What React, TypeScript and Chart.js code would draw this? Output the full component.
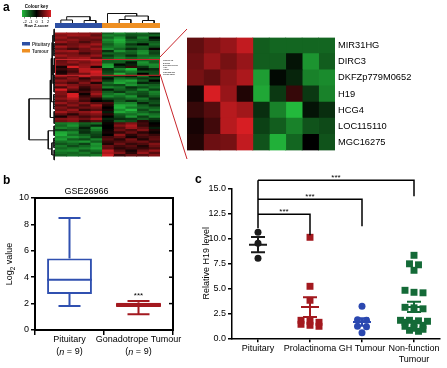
import React, { useEffect, useRef } from 'react';
import { Chart, registerables } from 'chart.js';

Chart.register(...registerables);

const FONT = '"Liberation Sans", Arial, Helvetica, sans-serif';
Chart.defaults.font.family = FONT;
Chart.defaults.color = '#000';

// ---------------- Panel a : heatmap data ----------------
const sampleGroups = [0, 0, 0, 0, 1, 1, 1, 1, 1];
const groupNames = ['Pituitary', 'Tumour'];
const groupColors = ['#2d4fa3', '#ee8f22'];

const topRows = [
  [1.5, 1.4, 1.3, 1.2, -1.0, -1.5, -1.1, -1.2, -0.6],
  [1.2, 1.5, 1.4, 0.9, -1.4, -1.2, -0.9, -1.0, -1.1],
  [1.4, 1.0, 1.1, 1.2, -1.1, -1.6, -0.6, -1.4, -0.1],
  [1.1, 1.3, 1.0, 0.9, -1.5, -1.9, -1.0, -1.1, -0.5],
  [1.4, 1.1, 0.7, 1.1, -1.3, -1.8, -1.2, -1.0, -1.0],
  [0.7, 1.0, 1.2, 1.5, -1.0, -1.5, -0.6, -0.1, -1.2],
  [1.5, 1.1, 1.4, 1.0, -1.2, -1.4, -1.0, -1.1, -0.9],
  [1.0, 0.6, 1.0, 1.4, -1.5, -1.1, -0.5, -1.0, 0.1],
  [1.4, 1.5, 1.0, 1.1, -0.5, -1.6, -1.1, -1.5, -0.8],
  [1.0, 1.1, 0.6, 1.0, -1.1, -1.0, -1.0, -1.6, -0.7],
  [1.5, 1.2, 1.1, 1.4, -0.6, -1.1, -0.5, -1.1, -1.0],
  [1.1, 1.4, 1.5, 0.9, -1.0, -1.4, -1.1, -1.3, -1.4],
];
const zoomGenes = ['MIR31HG', 'DIRC3', 'DKFZp779M0652', 'H19', 'HCG4', 'LOC115110', 'MGC16275'];
const zoomRows = [
  [0.9, 1.2, 1.4, 1.8, -1.0, -1.1, -1.1, -1.1, -1.1],
  [1.0, 1.4, 1.1, 1.4, -1.0, -1.0, -0.2, -1.6, -1.0],
  [1.1, 0.9, 1.3, 1.6, -1.7, -0.1, -0.4, -1.4, -1.5],
  [0.2, 2.0, 1.4, 0.3, -1.8, -0.6, 0.5, -0.6, -1.4],
  [0.5, 0.8, 1.7, 1.5, -0.5, -1.4, -2.0, -0.2, -0.5],
  [0.2, 0.6, 1.7, 2.0, -0.7, -1.0, -1.4, -0.9, -0.8],
  [0.3, 1.0, 1.1, 1.8, -0.9, -1.9, -1.1, 0.0, -0.9],
];
const midRows = [
  [1.4, 1.0, 1.8, 1.2, -0.8, -0.5, -0.3, -1.2, -0.2],
  [0.8, 1.3, 0.4, 1.0, -0.2, -1.2, -1.0, -0.6, -0.8],
  [1.3, 1.1, 0.8, 1.4, -0.6, -1.6, -1.8, -1.0, 0.0],
  [1.0, 0.6, 1.2, 0.3, -1.2, -1.8, -1.4, -0.4, -0.6],
  [1.5, 1.2, 0.9, 1.1, -0.9, -0.8, -1.6, -1.2, -1.0],
  [0.7, 1.4, 0.5, 1.0, -1.4, -1.2, -0.5, -0.8, -1.2],
  [2.0, 0.9, 0.3, 0.8, -0.3, -1.0, -0.8, -1.5, -0.7],
  [1.2, 0.4, 0.6, 1.2, -1.0, -0.6, -1.2, -0.9, -1.4],
  [1.2, 2.0, 0.1, 1.5, -1.2, -1.5, -1.0, -0.8, -1.3],
  [1.0, 2.1, 0.5, 1.0, -1.5, -1.2, -1.6, -0.6, -1.0],
  [1.3, 1.6, 0.8, 0.3, -0.8, -0.9, -1.2, -1.3, -0.5],
  [0.9, 1.2, 0.6, 0.0, -0.2, -1.0, -0.5, -1.0, -0.8],
  [1.4, 1.0, 1.2, 0.8, 0.6, -1.3, -1.4, -0.4, -0.9],
  [0.8, 1.3, 0.7, 1.5, 0.3, -1.8, -1.7, -1.0, -0.5],
  [1.2, 0.8, 1.0, 1.1, 0.0, -1.9, -1.3, -1.2, -1.0],
  [1.0, 1.4, 0.5, 0.8, 0.2, -1.5, -2.0, -0.8, -1.3],
  [1.5, 1.1, 1.3, 1.6, -0.3, -1.8, -1.5, -1.1, -0.8],
  [0.9, 0.4, 1.0, 1.2, 0.4, -1.0, -1.2, -1.5, -1.2],
  [0.2, 1.0, 0.6, 0.9, 0.0, -0.8, -1.6, -0.7, -1.4],
  [1.2, 1.3, 1.0, 1.5, -0.4, -0.5, -0.6, -1.0, -0.6],
  [1.0, 1.2, 0.5, 0.8, -0.2, -1.0, -0.8, 0.4, -0.3],
];
const lowRows = [
  [-1.3, -1.4, -1.0, -1.2, 0.1, 0.8, 1.2, 0.6, 0.0],
  [-1.1, -1.6, -0.8, -0.4, 0.0, 1.2, 1.6, 0.5, 0.1],
  [-1.4, -1.2, -0.3, -1.5, 0.0, 0.8, 1.4, 0.9, -0.3],
  [-0.8, -1.0, -0.6, -1.3, 0.1, 1.0, 0.7, 1.2, 0.3],
  [-1.8, -1.5, -0.5, -0.9, 0.2, 0.5, 1.0, 0.4, 0.1],
  [-1.9, -1.2, -1.0, -0.7, 0.0, 1.3, 0.4, 0.8, 0.5],
  [-1.5, -1.6, -1.3, -0.6, 0.6, 0.9, 0.2, 0.6, 0.8],
  [-1.7, -1.0, -0.8, -1.4, 0.8, 0.4, 1.1, 0.3, 0.9],
  [-1.2, -1.4, -1.6, -1.0, 0.5, 0.7, 0.9, 1.0, 0.6],
  [-0.9, -1.1, -0.7, -1.6, 0.3, 1.0, 0.5, 0.7, 1.2],
  [-1.3, -0.8, -1.1, -1.5, 1.0, 0.6, 0.8, 0.3, 1.0],
  [-1.1, -1.3, -1.4, -1.7, 0.9, 0.4, 0.6, 0.5, 0.7],
  [-1.4, -1.5, -0.9, -1.2, 1.8, 0.8, 0.2, 1.0, 1.4],
  [-1.2, -1.1, -1.3, -0.9, 1.6, 1.2, 0.4, 1.4, 0.8],
  [-1.0, -1.2, -1.1, -1.3, 1.9, 0.5, 0.9, 0.8, 1.2],
];
const heatRows = [...topRows, ...zoomRows, ...midRows, ...lowRows];
const zoomStart = topRows.length;
const heatLabels = heatRows.map((_, i) =>
  i >= zoomStart && i < zoomStart + zoomGenes.length ? zoomGenes[i - zoomStart] : '');

// column dendrogram merges: [idA, idB, height]; ids >= 9 are earlier merges
const colMerges = [
  [0, 1, 3], [2, 3, 2.5], [9, 10, 6.3],
  [5, 6, 3.5], [7, 8, 2.5], [12, 13, 7], [4, 14, 9.5],
];
// row dendrogram: leaf groups [firstRow, lastRow, height], then merges
const rowLeafGroups = [
  [0, 5, 0.8], [6, 11, 1.0], [12, 18, 0.7], [19, 26, 0.9], [27, 33, 1.1],
  [34, 39, 0.8], [40, 44, 0.9], [45, 49, 1.0], [50, 54, 0.8],
];
const rowMerges = [
  [0, 1, 2.0], [2, 3, 1.8], [9, 10, 2.8], [11, 4, 3.5], [12, 5, 4.5],
  [7, 8, 3.0], [6, 14, 6.5], [13, 15, 25],
];
const keyRange = [-2.5, 2.5];
const keyTicks = [-2, -1, 0, 1, 2];

// ---------------- Panel b : box plot ----------------
const boxCats = ['Pituitary', 'Gonadotrope Tumour'];
const boxN = [9, 9];
const boxMin = [1.82, 1.2];
const boxQ1 = [2.72, 1.74];
const boxMed = [3.8, 1.9];
const boxQ3 = [5.42, 2.06];
const boxMax = [8.49, 2.2];
const boxSig = ['', '***'];
const boxColors = ['#3050b0', '#a3191f'];
const boxFills = ['#ffffff', '#a3191f'];

// ---------------- Panel c : dot plot ----------------
const cCats = ['Pituitary', 'Prolactinoma', 'GH Tumour', ['Non-function', 'Tumour']];
const pitVals = [10.6, 9.5, 8.0];
const prlVals = [10.1, 5.2, 3.8, 1.8, 1.7, 1.6, 1.4, 1.3, 1.2];
const ghVals = [3.2, 1.85, 1.8, 1.2, 1.15, 0.55];
const nfVals = [8.3, 7.45, 7.35, 6.8, 4.8, 4.6, 4.55, 3.1, 3.05, 2.95, 1.8, 1.8, 1.75, 1.7, 1.6, 1.5, 1.3, 1.2, 1.0, 0.9, 0.8, 0.7];
const cGroups = [pitVals, prlVals, ghVals, nfVals];
const cColors = ['#1b1b1b', '#a3191f', '#2b48b0', '#146a37'];
const cStyles = ['circle', 'rect', 'circle', 'rect'];
const bracketTo = [1, 2, 3];
const bracketY = [12.4, 13.9, 15.8];
const bracketEnd = [10.3, 11.2, 14.2];
const bracketBase = 11.0;
const bracketSig = ['***', '***', '***'];

const LINK_RED = '#c8262c';

function heatColor(z: number) {
  const t = Math.min(Math.abs(z) / 2, 1);
  if (z >= 0) return `rgb(${Math.round(215 * t)},${Math.round(30 * t)},${Math.round(35 * t)})`;
  return `rgb(${Math.round(35 * t)},${Math.round(185 * t)},${Math.round(60 * t)})`;
}

const baseOpts = {
  animation: false,
  responsive: false,
  maintainAspectRatio: false,
  events: [],
  plugins: { legend: { display: false }, tooltip: { enabled: false } },
};

function heatConfig(rows: number[][], labels: string[], fontSize: number, axisWidth: number, plugins: any[]) {
  return {
    type: 'bar',
    data: {
      labels,
      datasets: sampleGroups.map((_, c) => ({
        data: rows.map(() => 1),
        backgroundColor: rows.map((r) => heatColor(r[c])),
        borderWidth: 0,
        barPercentage: 1,
        categoryPercentage: 1,
        inflateAmount: 0.4,
      })),
    },
    options: {
      ...baseOpts,
      indexAxis: 'y',
      layout: { padding: 0 },
      scales: {
        x: { stacked: true, display: false, min: 0, max: sampleGroups.length },
        y: {
          stacked: true,
          position: 'right',
          grid: { display: false, drawTicks: false },
          border: { display: false },
          ticks: { autoSkip: false, font: { size: fontSize }, padding: 3, color: '#000' },
          afterFit: (s: any) => { s.width = axisWidth; },
        },
      },
    },
    plugins,
  };
}

const zoomBoxPlugin = {
  id: 'zoomBox',
  afterDraw(chart: any) {
    const { ctx, chartArea: ca, scales } = chart;
    const y = scales.y;
    const half = (y.getPixelForTick(1) - y.getPixelForTick(0)) / 2;
    const top = y.getPixelForTick(zoomStart) - half;
    const bot = y.getPixelForTick(zoomStart + zoomGenes.length - 1) + half;
    ctx.save();
    ctx.strokeStyle = LINK_RED;
    ctx.lineWidth = 1;
    ctx.strokeRect(ca.left + 0.5, top, ca.width - 1, bot - top);
    ctx.restore();
  },
};

function colBarConfig() {
  return {
    type: 'bar',
    data: {
      labels: [''],
      datasets: sampleGroups.map((g) => ({
        data: [1], backgroundColor: groupColors[g], borderWidth: 0,
        barPercentage: 1, categoryPercentage: 1, inflateAmount: 0.4,
      })),
    },
    options: {
      ...baseOpts, indexAxis: 'y', layout: { padding: 0 },
      scales: {
        x: { stacked: true, display: false, min: 0, max: sampleGroups.length },
        y: { stacked: true, display: false },
      },
    },
  };
}

function segDataset(seg: { x: number; y: number }[]) {
  return {
    data: seg, showLine: true, pointRadius: 0, borderColor: '#111', borderWidth: 1, tension: 0, clip: false,
  };
}

function colDendroConfig() {
  const n = sampleGroups.length;
  const pos: number[] = [];
  const ht: number[] = [];
  for (let i = 0; i < n; i++) { pos[i] = i; ht[i] = 0; }
  const segs: any[] = [];
  colMerges.forEach(([a, b, h], k) => {
    segs.push([{ x: pos[a], y: ht[a] }, { x: pos[a], y: h }, { x: pos[b], y: h }, { x: pos[b], y: ht[b] }]);
    pos[n + k] = (pos[a] + pos[b]) / 2;
    ht[n + k] = h;
  });
  return {
    type: 'scatter',
    data: { datasets: segs.map(segDataset) },
    options: {
      ...baseOpts, layout: { padding: 0 },
      scales: {
        x: { type: 'linear', display: false, min: -0.5, max: n - 0.5 },
        y: { type: 'linear', display: false, min: 0, max: 12 },
      },
    },
  };
}

function rowDendroConfig() {
  const pos: number[] = [];
  const ht: number[] = [];
  const segs: any[] = [];
  rowLeafGroups.forEach(([lo, hi, h], g) => {
    for (let r = lo; r <= hi; r++) segs.push([{ x: 0, y: r }, { x: h, y: r }]);
    segs.push([{ x: h, y: lo }, { x: h, y: hi }]);
    pos[g] = (lo + hi) / 2;
    ht[g] = h;
  });
  const G = rowLeafGroups.length;
  rowMerges.forEach(([a, b, h], k) => {
    segs.push([{ x: ht[a], y: pos[a] }, { x: h, y: pos[a] }, { x: h, y: pos[b] }, { x: ht[b], y: pos[b] }]);
    pos[G + k] = (pos[a] + pos[b]) / 2;
    ht[G + k] = h;
  });
  return {
    type: 'scatter',
    data: { datasets: segs.map(segDataset) },
    options: {
      ...baseOpts, layout: { padding: 0 },
      scales: {
        x: { type: 'linear', display: false, min: 0, max: 27, reverse: true },
        y: { type: 'linear', display: false, min: -0.5, max: heatRows.length - 0.5, reverse: true },
      },
    },
  };
}

function keyConfig() {
  return {
    type: 'bar',
    data: {
      labels: [''],
      datasets: [{
        data: [keyRange],
        backgroundColor: (c: any) => {
          const ca = c.chart.chartArea;
          if (!ca) return '#000';
          const g = c.chart.ctx.createLinearGradient(ca.left, 0, ca.right, 0);
          g.addColorStop(0, heatColor(keyRange[0]));
          g.addColorStop(0.5, heatColor(0));
          g.addColorStop(1, heatColor(keyRange[1]));
          return g;
        },
        borderWidth: 0, barPercentage: 1, categoryPercentage: 1,
      }],
    },
    options: {
      ...baseOpts,
      indexAxis: 'y',
      layout: { padding: { left: 8, right: 9 } },
      plugins: {
        ...baseOpts.plugins,
        title: { display: true, text: 'Colour key', font: { size: 4.5, weight: 'bold' }, padding: { top: 3, bottom: 0.6 } },
      },
      scales: {
        x: {
          min: keyRange[0], max: keyRange[1],
          afterBuildTicks: (s: any) => { s.ticks = keyTicks.map((v) => ({ value: v })); },
          ticks: { font: { size: 4 }, padding: 0.5, maxRotation: 0, autoSkip: false },
          grid: { display: true, drawOnChartArea: false, tickLength: 1.5, color: '#000', lineWidth: 0.5 },
          border: { display: false },
          title: { display: true, text: 'Row Z-score', font: { size: 4, weight: 'bold' }, padding: 0 },
          afterFit: (s: any) => { s.height = 11; },
        },
        y: { display: false },
      },
    },
  };
}

// ---------- panel b ----------
const boxPlugin = {
  id: 'boxExtras',
  afterDraw(chart: any) {
    const { ctx, chartArea: ca, scales } = chart;
    const x = scales.x;
    const y = scales.y;
    const meta = chart.getDatasetMeta(0);
    const py = (v: number) => y.getPixelForValue(v);
    ctx.save();
    boxCats.forEach((cat, i) => {
      const cx = x.getPixelForValue(i);
      const bw = meta.data[i].width;
      ctx.strokeStyle = boxColors[i];
      ctx.lineWidth = 2;
      ctx.beginPath();
      ctx.moveTo(cx, py(boxQ3[i])); ctx.lineTo(cx, py(boxMax[i]));
      ctx.moveTo(cx, py(boxQ1[i])); ctx.lineTo(cx, py(boxMin[i]));
      ctx.moveTo(cx - 11, py(boxMax[i])); ctx.lineTo(cx + 11, py(boxMax[i]));
      ctx.moveTo(cx - 11, py(boxMin[i])); ctx.lineTo(cx + 11, py(boxMin[i]));
      ctx.moveTo(cx - bw / 2, py(boxMed[i])); ctx.lineTo(cx + bw / 2, py(boxMed[i]));
      ctx.stroke();
      ctx.fillStyle = '#000';
      if (boxSig[i]) {
        ctx.font = `8px ${FONT}`;
        ctx.textAlign = 'center';
        ctx.textBaseline = 'alphabetic';
        ctx.fillText(boxSig[i], cx, py(boxMax[i]) - 3);
      }
      ctx.font = `9px ${FONT}`;
      ctx.textAlign = 'center';
      ctx.textBaseline = 'middle';
      ctx.fillText(cat, cx, ca.bottom + 10);
      const parts: [string, boolean][] = [['(', false], ['n', true], [' = ' + boxN[i] + ')', false]];
      const fontOf = (it: boolean) => `${it ? 'italic ' : ''}9px ${FONT}`;
      let total = 0;
      parts.forEach(([t, it]) => { ctx.font = fontOf(it); total += ctx.measureText(t).width; });
      let px = cx - total / 2;
      ctx.textAlign = 'left';
      parts.forEach(([t, it]) => {
        ctx.font = fontOf(it);
        ctx.fillText(t, px, ca.bottom + 22);
        px += ctx.measureText(t).width;
      });
    });
    ctx.strokeStyle = '#000';
    ctx.lineWidth = 2;
    ctx.strokeRect(ca.left, ca.top, ca.width, ca.height);
    ctx.lineWidth = 1.5;
    y.ticks.forEach((t: any) => {
      const p = py(t.value);
      ctx.beginPath(); ctx.moveTo(ca.right - 4, p); ctx.lineTo(ca.right, p); ctx.stroke();
    });
    // y title with subscript
    ctx.translate(10, (ca.top + ca.bottom) / 2);
    ctx.rotate(-Math.PI / 2);
    ctx.fillStyle = '#000';
    ctx.textBaseline = 'middle';
    ctx.textAlign = 'left';
    const f1 = `9px ${FONT}`;
    const f2 = `6.5px ${FONT}`;
    ctx.font = f1; const w1 = ctx.measureText('Log').width; const w3 = ctx.measureText(' value').width;
    ctx.font = f2; const w2 = ctx.measureText('2').width;
    let sx = -(w1 + w2 + w3) / 2;
    ctx.font = f1; ctx.fillText('Log', sx, 0); sx += w1;
    ctx.font = f2; ctx.fillText('2', sx, 3); sx += w2;
    ctx.font = f1; ctx.fillText(' value', sx, 0);
    ctx.restore();
  },
};

function boxConfig() {
  return {
    type: 'bar',
    data: {
      labels: boxCats,
      datasets: [{
        data: boxCats.map((_, i) => [boxQ1[i], boxQ3[i]]),
        backgroundColor: boxFills,
        borderColor: boxColors,
        borderWidth: 2,
        borderSkipped: false,
        barPercentage: 0.65,
        categoryPercentage: 1,
      }],
    },
    options: {
      ...baseOpts,
      layout: { padding: { right: 27 } },
      plugins: {
        ...baseOpts.plugins,
        title: { display: true, text: 'GSE26966', font: { size: 9, weight: 'normal' }, padding: { top: 1.5, bottom: 0.7 }, color: '#000' },
      },
      scales: {
        x: {
          ticks: { display: false },
          grid: { display: true, drawOnChartArea: false, tickLength: 5, color: '#000', lineWidth: 1.5 },
          border: { display: true, color: '#000', width: 2 },
          afterFit: (s: any) => { s.height = 38; },
        },
        y: {
          min: 0, max: 10,
          ticks: { stepSize: 2, font: { size: 9 }, padding: 2, color: '#000' },
          grid: { display: true, drawOnChartArea: false, tickLength: 4, color: '#000', lineWidth: 1.5 },
          border: { display: true, color: '#000', width: 2 },
          afterFit: (s: any) => { s.width = 35; },
        },
      },
    },
    plugins: [boxPlugin],
  };
}

// ---------- panel c ----------
const mean = (a: number[]) => a.reduce((s, v) => s + v, 0) / a.length;
const sem = (a: number[]) => {
  const m = mean(a);
  const sd = Math.sqrt(a.reduce((s, v) => s + (v - m) * (v - m), 0) / (a.length - 1));
  return sd / Math.sqrt(a.length);
};

// centred rows of points whose values are close (scatter-dot-plot layout)
function swarm(vals: number[], step: number, binSize: number, maxPerRow: number) {
  const order = vals.map((_, i) => i).sort((a, b) => vals[b] - vals[a]);
  const offs = vals.map(() => 0);
  let bin: number[] = [];
  const flush = () => {
    bin.forEach((idx, j) => { offs[idx] = (j - (bin.length - 1) / 2) * step; });
    bin = [];
  };
  order.forEach((i) => {
    if (bin.length && (vals[bin[0]] - vals[i] >= binSize || bin.length >= maxPerRow)) flush();
    bin.push(i);
  });
  flush();
  return offs;
}

const dotPlugin = {
  id: 'dotExtras',
  afterDraw(chart: any) {
    const { ctx, scales } = chart;
    const x = scales.x;
    const y = scales.y;
    const py = (v: number) => y.getPixelForValue(v);
    ctx.save();
    cGroups.forEach((vals, i) => {
      const m = mean(vals);
      const s = sem(vals);
      const cx = x.getPixelForValue(i);
      ctx.strokeStyle = cColors[i];
      ctx.lineWidth = 2;
      ctx.beginPath();
      ctx.moveTo(cx - 9, py(m)); ctx.lineTo(cx + 9, py(m));
      ctx.moveTo(cx - 7, py(m + s)); ctx.lineTo(cx + 7, py(m + s));
      ctx.moveTo(cx - 7, py(m - s)); ctx.lineTo(cx + 7, py(m - s));
      ctx.moveTo(cx, py(m + s)); ctx.lineTo(cx, py(m - s));
      ctx.stroke();
    });
    const x0 = x.getPixelForValue(0);
    ctx.strokeStyle = '#000';
    ctx.lineWidth = 1.5;
    ctx.beginPath();
    ctx.moveTo(x0, py(bracketBase));
    ctx.lineTo(x0, py(Math.max(...bracketY)));
    bracketTo.forEach((g, k) => {
      const xg = x.getPixelForValue(g);
      ctx.moveTo(x0, py(bracketY[k]));
      ctx.lineTo(xg, py(bracketY[k]));
      ctx.lineTo(xg, py(bracketEnd[k]));
    });
    ctx.stroke();
    ctx.fillStyle = '#000';
    ctx.font = `8px ${FONT}`;
    ctx.textAlign = 'center';
    ctx.textBaseline = 'alphabetic';
    bracketTo.forEach((g, k) => {
      const xg = x.getPixelForValue(g);
      ctx.fillText(bracketSig[k], (x0 + xg) / 2, py(bracketY[k]) - 0.5);
    });
    ctx.restore();
  },
};

function dotConfig() {
  return {
    type: 'scatter',
    data: {
      datasets: cGroups.map((vals, i) => {
        const offs = swarm(vals, 9 / 52, 0.35, 4);
        return {
          data: vals.map((v, j) => ({ x: i + offs[j], y: v })),
          pointStyle: cStyles[i],
          pointRadius: cStyles[i] === 'rect' ? 4.9 : 3.5,
          pointBackgroundColor: cColors[i],
          pointBorderColor: cColors[i],
          pointBorderWidth: 0,
          showLine: false,
          clip: false,
        };
      }),
    },
    options: {
      ...baseOpts,
      layout: { padding: { top: 20.3, right: 7 } },
      scales: {
        x: {
          type: 'linear', min: -0.5, max: cCats.length - 0.5,
          afterBuildTicks: (s: any) => { s.ticks = cCats.map((_, i) => ({ value: i })); },
          ticks: { callback: (v: any) => cCats[v], font: { size: 9 }, padding: 1, maxRotation: 0, autoSkip: false, color: '#000' },
          grid: { display: true, drawOnChartArea: false, tickLength: 4, color: '#000', lineWidth: 1.5 },
          border: { display: true, color: '#000', width: 1.5 },
          afterFit: (s: any) => { s.height = 29.7; },
        },
        y: {
          min: 0, max: 15,
          ticks: { stepSize: 2.5, callback: (v: any) => Number(v).toFixed(1), font: { size: 9 }, padding: 2, color: '#000' },
          grid: { display: true, drawOnChartArea: false, tickLength: 4, color: '#000', lineWidth: 1.5 },
          border: { display: true, color: '#000', width: 1.5 },
          title: { display: true, text: 'Relative H19 level', font: { size: 9 }, padding: { top: 6.5, bottom: 0 }, color: '#000' },
          afterFit: (s: any) => { s.width = 37; },
        },
      },
    },
    plugins: [dotPlugin],
  };
}

function ChartBox({ x, y, w, h, make }: { x: number; y: number; w: number; h: number; make: () => any }) {
  const ref = useRef<HTMLCanvasElement>(null);
  useEffect(() => {
    const chart = new Chart(ref.current as HTMLCanvasElement, make());
    return () => chart.destroy();
  }, []);
  return (
    <canvas ref={ref} width={w} height={h}
      style={{ position: 'absolute', left: x, top: y, width: w, height: h }} />
  );
}

// layout of panel a (page pixels)
const HEAT = { x: 55, y: 28, w: 105, h: 133 };
const ZOOM = { x: 187, y: 29, w: 148, h: 130 };

export default function App() {
  const rowH = HEAT.h / heatRows.length;
  const boxTop = HEAT.y + zoomStart * rowH;
  const boxBot = HEAT.y + (zoomStart + zoomGenes.length) * rowH;
  return (
    <div style={{ position: 'absolute', left: 0, top: 0, width: 447, height: 368, background: '#fff', overflow: 'hidden', fontFamily: FONT }}>
      <ChartBox x={14} y={1} w={46} h={27} make={keyConfig} />
      <ChartBox x={HEAT.x} y={11} w={HEAT.w} h={12} make={colDendroConfig} />
      <ChartBox x={HEAT.x} y={23} w={HEAT.w} h={5} make={colBarConfig} />
      <ChartBox x={27} y={HEAT.y} w={28} h={HEAT.h} make={rowDendroConfig} />
      <ChartBox x={HEAT.x} y={HEAT.y} w={HEAT.w + 18} h={HEAT.h}
        make={() => heatConfig(heatRows, heatLabels, 2.3, 18, [zoomBoxPlugin])} />
      <ChartBox x={ZOOM.x} y={ZOOM.y} w={447 - ZOOM.x} h={ZOOM.h}
        make={() => heatConfig(zoomRows, zoomGenes, 9.3, 447 - ZOOM.x - ZOOM.w, [])} />
      <ChartBox x={0} y={185} w={200} h={183} make={boxConfig} />
      <ChartBox x={195} y={168} w={252} h={200} make={dotConfig} />
      <svg width={447} height={368} style={{ position: 'absolute', left: 0, top: 0, pointerEvents: 'none' }}>
        <line x1={HEAT.x + HEAT.w} y1={boxTop} x2={ZOOM.x} y2={ZOOM.y} stroke={LINK_RED} strokeWidth={1} />
        <line x1={HEAT.x + HEAT.w} y1={boxBot} x2={ZOOM.x} y2={ZOOM.y + ZOOM.h} stroke={LINK_RED} strokeWidth={1} />
        {groupNames.map((g, i) => (
          <g key={g}>
            <rect x={22} y={42 + i * 7} width={8} height={3.5} fill={groupColors[i]} />
            <text x={32} y={45.5 + i * 7} fontSize={4.5} fontWeight="bold" fill="#333" fontFamily={FONT}>{g}</text>
          </g>
        ))}
        <text x={3} y={11} fontSize={12} fontWeight="bold" fontFamily={FONT}>a</text>
        <text x={3} y={184} fontSize={12} fontWeight="bold" fontFamily={FONT}>b</text>
        <text x={195} y={183} fontSize={12} fontWeight="bold" fontFamily={FONT}>c</text>
      </svg>
    </div>
  );
}
